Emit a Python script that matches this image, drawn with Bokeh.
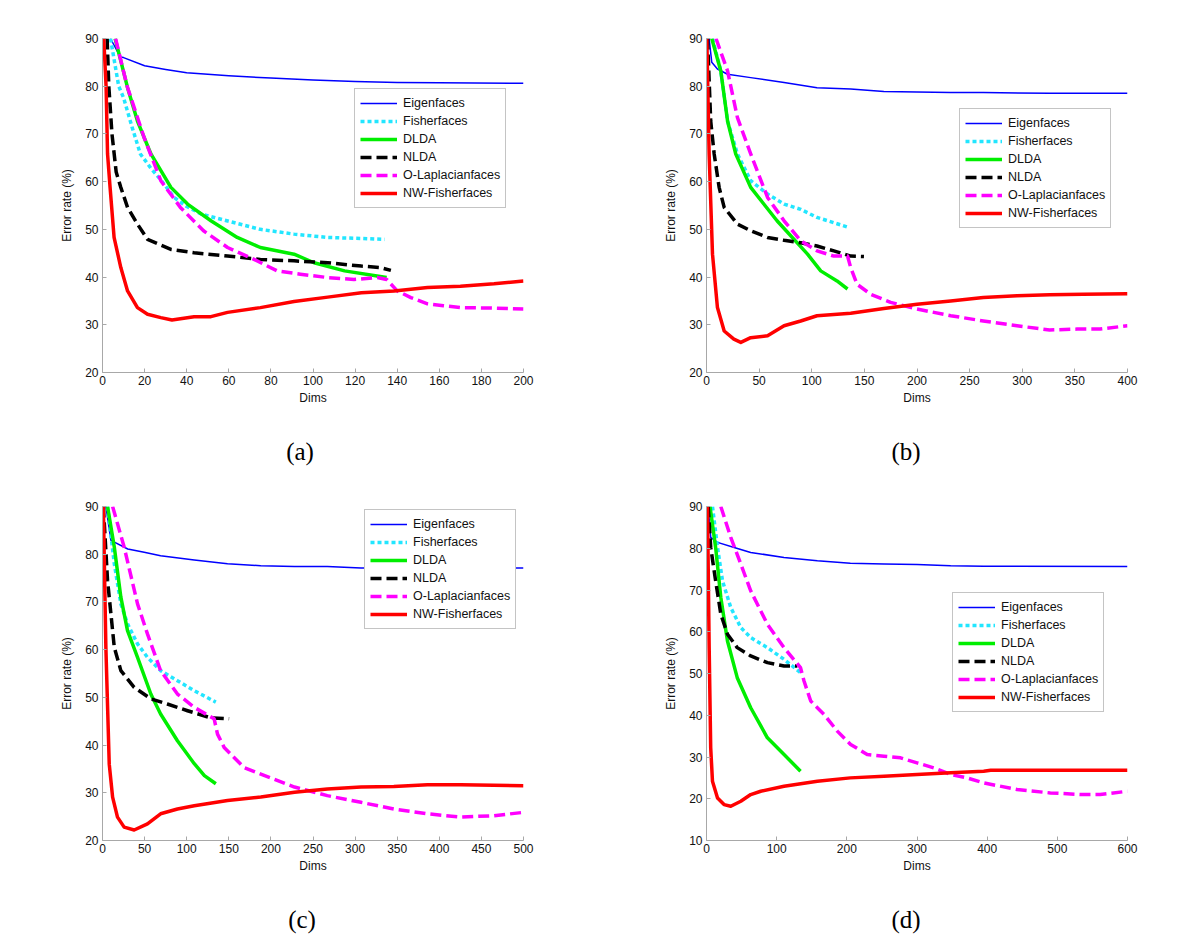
from bokeh.plotting import figure
from bokeh.layouts import column, row
from bokeh.models import Range1d, FixedTicker, Div
from bokeh.embed import file_html
from bokeh.resources import INLINE

# ---------------- data ----------------
SERIES = ["Eigenfaces", "Fisherfaces", "DLDA", "NLDA", "O-Laplacianfaces", "NW-Fisherfaces"]

# Panel (a)
A_EIG_X = [3.8, 8.5, 10, 20, 30, 40, 50, 60, 80, 100, 120, 140, 160, 200]
A_EIG_Y = [90, 86.1, 86, 84.3, 83.5, 82.8, 82.5, 82.2, 81.7, 81.3, 81.0, 80.8, 80.7, 80.6]
A_FISH_X = [3.8, 7.7, 10, 14, 18, 23, 28, 34, 40, 47, 59, 75, 91, 107, 123, 134]
A_FISH_Y = [90, 80, 77.6, 71.5, 65.8, 62.8, 60.2, 56.7, 54.8, 53.2, 51.8, 50.0, 49.0, 48.3, 48.1, 47.9]
A_DLDA_X = [6, 11.9, 16.6, 23, 32.5, 40.4, 51.5, 64, 75, 91, 100.5, 115, 135]
A_DLDA_Y = [90, 79.7, 72.7, 65.8, 58.8, 55.3, 51.8, 48.3, 46.2, 44.8, 43.0, 41.3, 39.9]
A_NLDA_X = [2.2, 3.0, 4.5, 6.5, 8.7, 11.9, 16.6, 21.4, 32.5, 43.5, 59.4, 75, 91, 107, 123, 132, 137]
A_NLDA_Y = [90, 80, 70, 62, 58.8, 54.6, 51.1, 47.9, 45.8, 45.1, 44.4, 43.7, 43.4, 43.0, 42.3, 42.0, 41.4]
A_OLAP_X = [6.2, 11.7, 19.8, 27.7, 37, 48, 59.4, 72, 83, 94, 107, 119.5, 130.6, 135, 140, 146.5, 154.4, 162, 170, 186, 200]
A_OLAP_Y = [90, 80, 69.2, 60.2, 54.6, 49.7, 46.2, 43.7, 41.3, 40.6, 39.9, 39.5, 39.9, 39.5, 37.1, 35.7, 34.4, 34.0, 33.6, 33.5, 33.3]
A_NWF_X = [0.6, 1.7, 2.4, 3.6, 5.5, 8.7, 11.9, 16.6, 21.4, 27.7, 33, 43.5, 51.5, 59.4, 75, 91, 107, 123, 138.5, 154.4, 170, 186, 200]
A_NWF_Y = [90, 80, 65.8, 58.8, 48.3, 42.0, 37.1, 33.6, 32.2, 31.5, 31.0, 31.7, 31.7, 32.6, 33.6, 34.9, 35.8, 36.7, 37.1, 37.8, 38.1, 38.6, 39.2]

# Panel (b)
B_EIG_X = [2.5, 5, 10.4, 20, 42, 73.7, 105, 137, 168.5, 200, 232, 263, 326, 400]
B_EIG_Y = [90, 85, 83.6, 82.5, 81.8, 80.8, 79.7, 79.4, 78.9, 78.8, 78.7, 78.7, 78.5, 78.5]
B_FISH_X = [5.7, 13.6, 20, 29.4, 42, 58, 73.7, 89.5, 105, 121, 135]
B_FISH_Y = [90, 83.2, 72.7, 65.8, 60.2, 57.4, 55.3, 54.2, 52.5, 51.4, 50.4]
B_DLDA_X = [5, 13.6, 20, 27.8, 42, 67, 96, 108.5, 124, 134]
B_DLDA_Y = [90, 83.2, 72.7, 65.8, 58.8, 51.8, 44.8, 41.3, 39.2, 37.5]
B_NLDA_X = [1, 4, 7.3, 12, 16.8, 29.4, 42, 58, 73.7, 89.5, 105, 121, 137, 149.6]
B_NLDA_Y = [90, 72.7, 65.8, 58.8, 54.6, 51.1, 49.7, 48.3, 47.7, 47.2, 46.5, 45.5, 44.4, 44.3]
B_OLAP_X = [9, 20, 29.4, 42, 58, 73.7, 89.5, 105, 121, 134, 137, 143, 156, 175, 200, 232, 263, 295, 326, 352, 374, 400]
B_OLAP_Y = [90, 83.2, 73.4, 65.8, 56.7, 51.8, 47.6, 45.5, 44.4, 44.4, 42.0, 38.5, 36.4, 34.7, 33.3, 31.9, 30.8, 29.8, 28.9, 29.1, 29.1, 29.8]
B_NWF_X = [0.3, 2.5, 5.7, 10.4, 16.8, 26, 32.6, 42, 58, 73.7, 89.5, 105, 137, 168.5, 200, 232, 263, 295, 326, 358, 400]
B_NWF_Y = [90, 65.8, 44.8, 33.6, 28.7, 27.0, 26.3, 27.3, 27.7, 29.8, 30.8, 31.9, 32.4, 33.4, 34.3, 35.0, 35.7, 36.1, 36.3, 36.4, 36.5]

# Panel (c)
C_EIG_X = [4, 10, 30, 49.5, 69, 109, 148.5, 188, 228, 267, 307, 346, 500]
C_EIG_Y = [90, 82.9, 81.1, 80.4, 79.7, 78.8, 78.0, 77.6, 77.4, 77.4, 77.1, 77.1, 77.1]
C_FISH_X = [6, 14, 21.8, 29.7, 41.6, 53.4, 69, 89, 109, 134.6]
C_FISH_Y = [90, 78, 69.6, 65.4, 61.2, 58.4, 55.6, 53.5, 51.4, 49.0]
C_DLDA_X = [6, 14, 21.8, 29.7, 41.6, 57.4, 69, 89, 109, 121, 134.6]
C_DLDA_Y = [90, 81.5, 71, 64, 58.4, 50.7, 46.5, 40.9, 36.1, 33.6, 31.9]
C_NLDA_X = [1, 6, 10, 14, 21.8, 37.6, 57.4, 77, 101, 128.7, 150.4]
C_NLDA_Y = [90, 74.5, 67.5, 60.5, 55.6, 52.1, 49.7, 48.6, 47.2, 45.7, 45.5]
C_OLAP_X = [12, 25.7, 41.6, 53.4, 69, 89, 109, 132.6, 136.6, 144.5, 168, 188, 228, 267, 307, 346, 386, 425.6, 465, 500]
C_OLAP_Y = [90, 81.5, 69.6, 63.3, 55.6, 50.7, 47.9, 45.5, 42.3, 39.5, 35.3, 33.9, 31.2, 29.4, 28.0, 26.6, 25.6, 24.9, 25.2, 25.9]
C_NWF_X = [1, 4, 8, 12, 17.8, 25.7, 37.6, 53.4, 69, 89, 109, 148.5, 188, 228, 267, 307, 346, 386, 425.6, 500]
C_NWF_Y = [90, 60.5, 36.0, 29.1, 24.9, 22.8, 22.2, 23.5, 25.6, 26.6, 27.3, 28.4, 29.1, 30.1, 30.8, 31.2, 31.3, 31.7, 31.7, 31.5]

# Panel (d)
D_EIG_X = [2.4, 6, 15.7, 39.4, 63, 110.5, 158, 205, 253, 300, 348, 395, 600]
D_EIG_Y = [90, 82.6, 81.4, 80.2, 79.0, 77.8, 77.0, 76.4, 76.2, 76.1, 75.8, 75.7, 75.6]
D_FISH_X = [8.5, 15.7, 22.8, 34.6, 48.9, 63, 86.8, 110.5, 134]
D_FISH_Y = [90, 80.2, 72.2, 65.8, 61.0, 58.6, 56.2, 53.4, 50.2]
D_DLDA_X = [5, 13, 20.4, 29.9, 43.8, 63, 86.8, 110.5, 134]
D_DLDA_Y = [90, 80.2, 68.2, 57.8, 49.0, 41.8, 34.6, 30.6, 26.6]
D_NLDA_X = [2.4, 6, 13, 20.4, 29.9, 43.8, 63, 86.8, 110.5, 129.5]
D_NLDA_Y = [90, 80.2, 72.2, 64.2, 59.4, 56.2, 54.2, 52.6, 51.8, 51.8]
D_OLAP_X = [20.4, 34.6, 48.9, 63, 86.8, 110.5, 134, 139, 148.5, 167.5, 186.4, 205.4, 229, 253, 276.6, 300, 324, 348, 371, 395, 442.6, 490, 537, 561, 600]
D_OLAP_Y = [90, 82.6, 76.2, 69.8, 61.8, 56.2, 51.4, 48.2, 43.4, 40.2, 36.2, 33.0, 30.6, 30.2, 29.8, 28.6, 27.4, 25.8, 25.0, 23.8, 22.2, 21.4, 21.0, 21.0, 21.8]
D_NWF_X = [1.4, 3.8, 6, 8.5, 15.7, 25, 34.6, 48.9, 63, 77.3, 110.5, 158, 205, 253, 300, 348, 395, 405, 600]
D_NWF_Y = [90, 56.2, 32.2, 24.2, 20.2, 18.6, 18.2, 19.4, 21.0, 21.8, 23.0, 24.2, 25.0, 25.4, 25.8, 26.2, 26.6, 26.8, 26.8]

A_XTICKS = [0, 20, 40, 60, 80, 100, 120, 140, 160, 180, 200]
B_XTICKS = [0, 50, 100, 150, 200, 250, 300, 350, 400]
C_XTICKS = [0, 50, 100, 150, 200, 250, 300, 350, 400, 450, 500]
D_XTICKS = [0, 100, 200, 300, 400, 500, 600]
ABC_YTICKS = [20, 30, 40, 50, 60, 70, 80, 90]
D_YTICKS = [10, 20, 30, 40, 50, 60, 70, 80, 90]

CAPTIONS = ["(a)", "(b)", "(c)", "(d)"]

# ---------------- styles ----------------
STYLES = [
    dict(color="#0000ff", width=1.5, dash="solid"),
    dict(color="#22e6ff", width=3.5, dash="4 3"),
    dict(color="#00ee00", width=3.5, dash="solid"),
    dict(color="#000000", width=3.5, dash="11 5"),
    dict(color="#ff00ff", width=3.5, dash="11 5"),
    dict(color="#ff0000", width=3.5, dash="solid"),
]

FONT = "Liberation Sans"


def make_panel(series, xmax, ymin, xticks, yticks, width, height,
               mb_left, mb_right, mb_top, mb_bottom, legend_loc):
    p = figure(width=width, height=height, output_backend="svg", toolbar_location=None,
               x_range=Range1d(0, xmax), y_range=Range1d(ymin, 90),
               min_border_left=mb_left, min_border_right=mb_right,
               min_border_top=mb_top, min_border_bottom=mb_bottom)
    p.outline_line_color = None
    p.background_fill_color = "white"
    p.border_fill_color = "white"
    p.xgrid.visible = False
    p.ygrid.visible = False

    for name, (xs, ys), st in zip(SERIES, series, STYLES):
        p.line(xs, ys, line_color=st["color"], line_width=st["width"],
               line_dash=st["dash"], line_join="round", legend_label=name)

    p.xaxis.ticker = FixedTicker(ticks=xticks)
    p.yaxis.ticker = FixedTicker(ticks=yticks)
    for ax in (p.xaxis[0], p.yaxis[0]):
        ax.axis_line_color = "#a8a8a8"
        ax.axis_line_width = 1
        ax.major_tick_line_color = "#a8a8a8"
        ax.major_tick_in = 4
        ax.major_tick_out = 0
        ax.minor_tick_line_color = None
        ax.major_label_text_font = FONT
        ax.major_label_text_font_size = "12px"
        ax.major_label_text_color = "#111111"
        ax.axis_label_text_font = FONT
        ax.axis_label_text_font_size = "12px"
        ax.axis_label_text_font_style = "normal"
        ax.axis_label_text_color = "#111111"
    p.xaxis.axis_label = "Dims"
    p.yaxis.axis_label = "Error rate (%)"
    p.xaxis.major_label_standoff = 3
    p.yaxis.major_label_standoff = 4
    p.xaxis.axis_label_standoff = 3
    p.yaxis.axis_label_standoff = 8

    lg = p.legend[0]
    lg.location = legend_loc
    lg.label_text_font = FONT
    lg.label_text_font_size = "12.5px"
    lg.label_text_color = "#111111"
    lg.glyph_width = 37
    lg.glyph_height = 18
    lg.label_height = 18
    lg.label_standoff = 6
    lg.spacing = 0
    lg.padding = 5
    lg.margin = 0
    lg.border_line_color = "#8a8a8a"
    lg.border_line_width = 1
    lg.background_fill_alpha = 1.0
    return p


def caption_div(text, width, height, cx, cy):
    html = ('<div style="position:relative;width:%dpx;height:%dpx;">'
            '<span style="position:absolute;left:%dpx;top:%dpx;transform:translate(-50%%,-50%%);'
            'font-family:\'Liberation Serif\';font-size:25px;color:#000;white-space:nowrap;">%s</span>'
            '</div>') % (width, height, cx, cy, text)
    return Div(text=html, width=width, height=height, margin=0)


pa = make_panel([(A_EIG_X, A_EIG_Y), (A_FISH_X, A_FISH_Y), (A_DLDA_X, A_DLDA_Y),
                 (A_NLDA_X, A_NLDA_Y), (A_OLAP_X, A_OLAP_Y), (A_NWF_X, A_NWF_Y)],
                200, 20, A_XTICKS, ABC_YTICKS, 608, 408, 102, 85, 38, 36, (252, 164))
pb = make_panel([(B_EIG_X, B_EIG_Y), (B_FISH_X, B_FISH_Y), (B_DLDA_X, B_DLDA_Y),
                 (B_NLDA_X, B_NLDA_Y), (B_OLAP_X, B_OLAP_Y), (B_NWF_X, B_NWF_Y)],
                400, 20, B_XTICKS, ABC_YTICKS, 584, 408, 98, 65, 38, 36, (253, 144))
pc = make_panel([(C_EIG_X, C_EIG_Y), (C_FISH_X, C_FISH_Y), (C_DLDA_X, C_DLDA_Y),
                 (C_NLDA_X, C_NLDA_Y), (C_OLAP_X, C_OLAP_Y), (C_NWF_X, C_NWF_Y)],
                500, 20, C_XTICKS, ABC_YTICKS, 608, 400, 102, 85, 30, 36, (262, 211))
pd_ = make_panel([(D_EIG_X, D_EIG_Y), (D_FISH_X, D_FISH_Y), (D_DLDA_X, D_DLDA_Y),
                  (D_NLDA_X, D_NLDA_Y), (D_OLAP_X, D_OLAP_Y), (D_NWF_X, D_NWF_Y)],
                 600, 10, D_XTICKS, D_YTICKS, 584, 400, 98, 65, 30, 36, (246, 128))

ca = caption_div(CAPTIONS[0], 608, 68, 300, 44)
cb = caption_div(CAPTIONS[1], 584, 68, 298, 44)
cc = caption_div(CAPTIONS[2], 608, 70, 302, 44)
cd = caption_div(CAPTIONS[3], 584, 70, 298, 44)

layout = column(row(pa, pb, spacing=0), row(ca, cb, spacing=0),
                row(pc, pd_, spacing=0), row(cc, cd, spacing=0), spacing=0)

open("out.html", "w").write(file_html(layout, INLINE))
